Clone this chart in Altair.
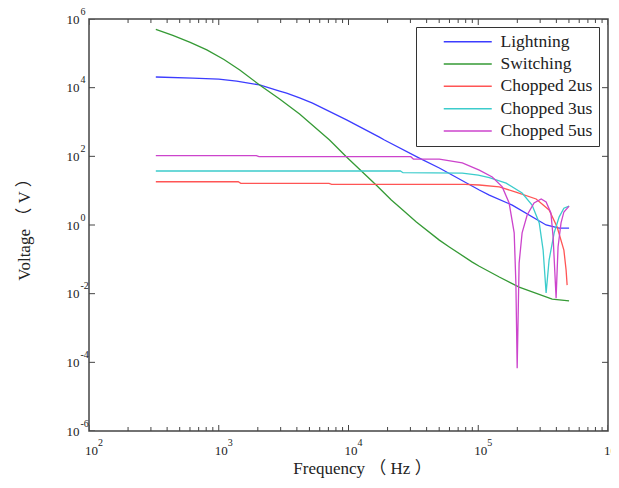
import altair as alt
import pandas as pd

# ---- data (log10 of Hz, log10 of V) ----
series_names = ["Lightning", "Switching", "Chopped 2us", "Chopped 3us", "Chopped 5us"]
series_colors = ["#3c3cff", "#359a35", "#ff5555", "#3ccccc", "#cc44cc"]

lightning_logf = [2.515, 2.8, 3.0, 3.138, 3.315, 3.469, 3.523, 3.623, 3.723, 3.985, 4.238,
                  4.277, 4.546, 4.70, 5.008, 5.085, 5.262, 5.523, 5.623, 5.70]
lightning_logv = [4.31, 4.28, 4.25, 4.19, 4.08, 3.90, 3.84, 3.70, 3.55, 3.06, 2.56,
                  2.475, 1.95, 1.66, 1.02, 0.87, 0.58, 0.0, -0.09, -0.09]

switching_logf = [2.515, 2.646, 2.78, 2.908, 3.04, 3.162, 3.315, 3.469, 3.623, 3.854, 3.985,
                  4.215, 4.33, 4.392, 4.523, 4.70, 4.777, 4.954, 5.008, 5.162, 5.315, 5.57, 5.70]
switching_logv = [5.70, 5.52, 5.32, 5.10, 4.82, 4.514, 4.078, 3.67, 3.233, 2.475, 1.98,
                  1.16, 0.73, 0.524, 0.087, -0.44, -0.64, -1.08, -1.20, -1.515, -1.81, -2.16, -2.21]

chopped2_logf = [2.515, 3.15, 3.17, 3.85, 3.87, 4.9, 5.008, 5.162, 5.29, 5.446, 5.546,
                 5.608, 5.66, 5.677, 5.685]
chopped2_logv = [1.26, 1.26, 1.214, 1.214, 1.185, 1.185, 1.165, 1.11, 0.96, 0.757, 0.44,
                 -0.06, -0.73, -1.31, -1.75]

chopped3_logf = [2.515, 4.40, 4.42, 4.877, 5.0, 5.085, 5.215, 5.338, 5.415, 5.47, 5.50,
                 5.523, 5.546, 5.585, 5.623, 5.66, 5.70]
chopped3_logv = [1.573, 1.573, 1.523, 1.51, 1.45, 1.38, 1.22, 0.93, 0.58, 0.06, -0.73,
                 -1.98, -1.02, -0.23, 0.23, 0.49, 0.55]

chopped5_logf = [2.515, 3.29, 3.31, 4.48, 4.50, 4.70, 4.877, 5.008, 5.108, 5.185, 5.238,
                 5.277, 5.29, 5.30, 5.315, 5.338, 5.377, 5.43, 5.485, 5.523, 5.56,
                 5.577, 5.60, 5.615, 5.638, 5.66, 5.70]
chopped5_logv = [2.018, 2.018, 1.989, 1.989, 1.922, 1.92, 1.81, 1.60, 1.40, 1.11, 0.64,
                 -0.23, -1.69, -4.17, -1.11, -0.23, 0.29, 0.64, 0.76, 0.67, 0.35,
                 -0.35, -2.13, -0.64, 0.06, 0.38, 0.55]

x_major = [1e2, 1e3, 1e4, 1e5, 1e6]
x_minor = [k * d for d in [1e2, 1e3, 1e4, 1e5] for k in [2, 3, 4, 5, 6, 7, 8, 9]]
y_major = [1e-6, 1e-4, 1e-2, 1e0, 1e2, 1e4, 1e6]
x_edges = [1e2, 1e6]
y_edges = [1e-6, 1e6]

rows = []
for name, lf, lv in zip(series_names,
                        [lightning_logf, switching_logf, chopped2_logf, chopped3_logf, chopped5_logf],
                        [lightning_logv, switching_logv, chopped2_logv, chopped3_logv, chopped5_logv]):
    for i, (a, b) in enumerate(zip(lf, lv)):
        rows.append({"series": name, "order": i, "f": 10 ** a, "v": 10 ** b})
df = pd.DataFrame(rows)

xmaj_df = pd.DataFrame([{"f": f, "v": e} for f in x_major for e in y_edges])
xmin_df = pd.DataFrame([{"f": f, "v": e} for f in x_minor for e in y_edges])
ymaj_df = pd.DataFrame([{"f": e, "v": v} for v in y_major for e in x_edges])

SERIF = "Liberation Serif, Times New Roman, Noto Sans CJK SC, serif"
INK = "#222222"
TICK = "#444444"
EXP = "'' + round(log(datum.value) / LN10)"

xs = alt.Scale(type="log", domain=[1e2, 1e6], nice=False)
ys = alt.Scale(type="log", domain=[1e-6, 1e6], nice=False)

def xenc(axis):
    return alt.X("f:Q", scale=xs, axis=axis)

def yenc(axis):
    return alt.Y("v:Q", scale=ys, axis=axis)

common = dict(grid=False, domain=False, labelOverlap=False, labelFlush=False)

# layer 1: visible lines + "10" labels + titles
x_main = alt.Axis(values=x_major, labelExpr="'10'", ticks=False, tickSize=0, orient="bottom",
                  labelFont=SERIF, labelFontSize=13, labelColor=INK, labelPadding=13, labelOffset=2,
                  title="Frequency （ Hz ）", titleFont=SERIF, titleFontSize=17,
                  titleFontWeight="normal", titleColor=INK, titlePadding=3,
                  titleX=273, titleAlign="center", **common)
y_main = alt.Axis(values=y_major, labelExpr="'10'", ticks=False, tickSize=0, orient="left",
                  labelFont=SERIF, labelFontSize=13, labelColor=INK, labelPadding=10,
                  labelBaseline="middle",
                  title="Voltage （ V ）", titleFont=SERIF, titleFontSize=17,
                  titleFontWeight="normal", titleColor=INK, titlePadding=33, **common)

lines = alt.Chart(df).mark_line(strokeWidth=1.3).encode(
    x=xenc(x_main),
    y=yenc(y_main),
    order="order:Q",
    color=alt.Color("series:N",
                    scale=alt.Scale(domain=series_names, range=series_colors),
                    legend=alt.Legend(title=None, orient="none", legendX=327, legendY=8,
                                      strokeColor="#333333", fillColor="white", padding=6,
                                      symbolType="M-4,0L4,0", symbolSize=144,
                                      symbolStrokeWidth=1.5, symbolOffset=37,
                                      labelFont=SERIF, labelFontSize=17.5, labelColor=INK,
                                      labelOffset=24, rowPadding=3.3)),
)

ghost = alt.Chart(df).mark_line(opacity=0)

# layer 2: exponents of the tick labels
exps = ghost.encode(
    x=xenc(alt.Axis(values=x_major, labelExpr=EXP, ticks=False, tickSize=0, labelFont=SERIF,
                    orient="bottom",
                    labelFontSize=10, labelColor=INK, labelPadding=6, labelOffset=11,
                    title=None, **common)),
    y=yenc(alt.Axis(values=y_major, labelExpr=EXP, ticks=False, tickSize=0, labelFont=SERIF,
                    orient="left",
                    labelFontSize=10, labelColor=INK, labelPadding=9, labelOffset=-8,
                    labelAlign="left", labelBaseline="middle", title=None, **common)),
)

# inward ticks on all four sides (half of each tick is clipped away by the frame)
xt_major = alt.Chart(xmaj_df).mark_tick(orient="vertical", size=12, thickness=1,
                                        color=TICK, opacity=1, clip=True).encode(
    x=xenc(None), y=yenc(None))
xt_minor = alt.Chart(xmin_df).mark_tick(orient="vertical", size=8, thickness=1,
                                        color=TICK, opacity=1, clip=True).encode(
    x=xenc(None), y=yenc(None))
yt_major = alt.Chart(ymaj_df).mark_tick(orient="horizontal", size=12, thickness=1,
                                        color=TICK, opacity=1, clip=True).encode(
    x=xenc(None), y=yenc(None))

chart = alt.layer(xt_major, xt_minor, yt_major, lines, exps).resolve_axis(
    x="independent", y="independent"
).properties(
    width=519, height=412,
    autosize=alt.AutoSizeParams(type="none"),
    padding={"left": 81, "top": 11, "right": 3, "bottom": 49},
    background="white",
).configure_view(stroke="#444444", strokeWidth=1.5)

chart.save("out.html", embed_options={"renderer": "svg", "actions": False})
